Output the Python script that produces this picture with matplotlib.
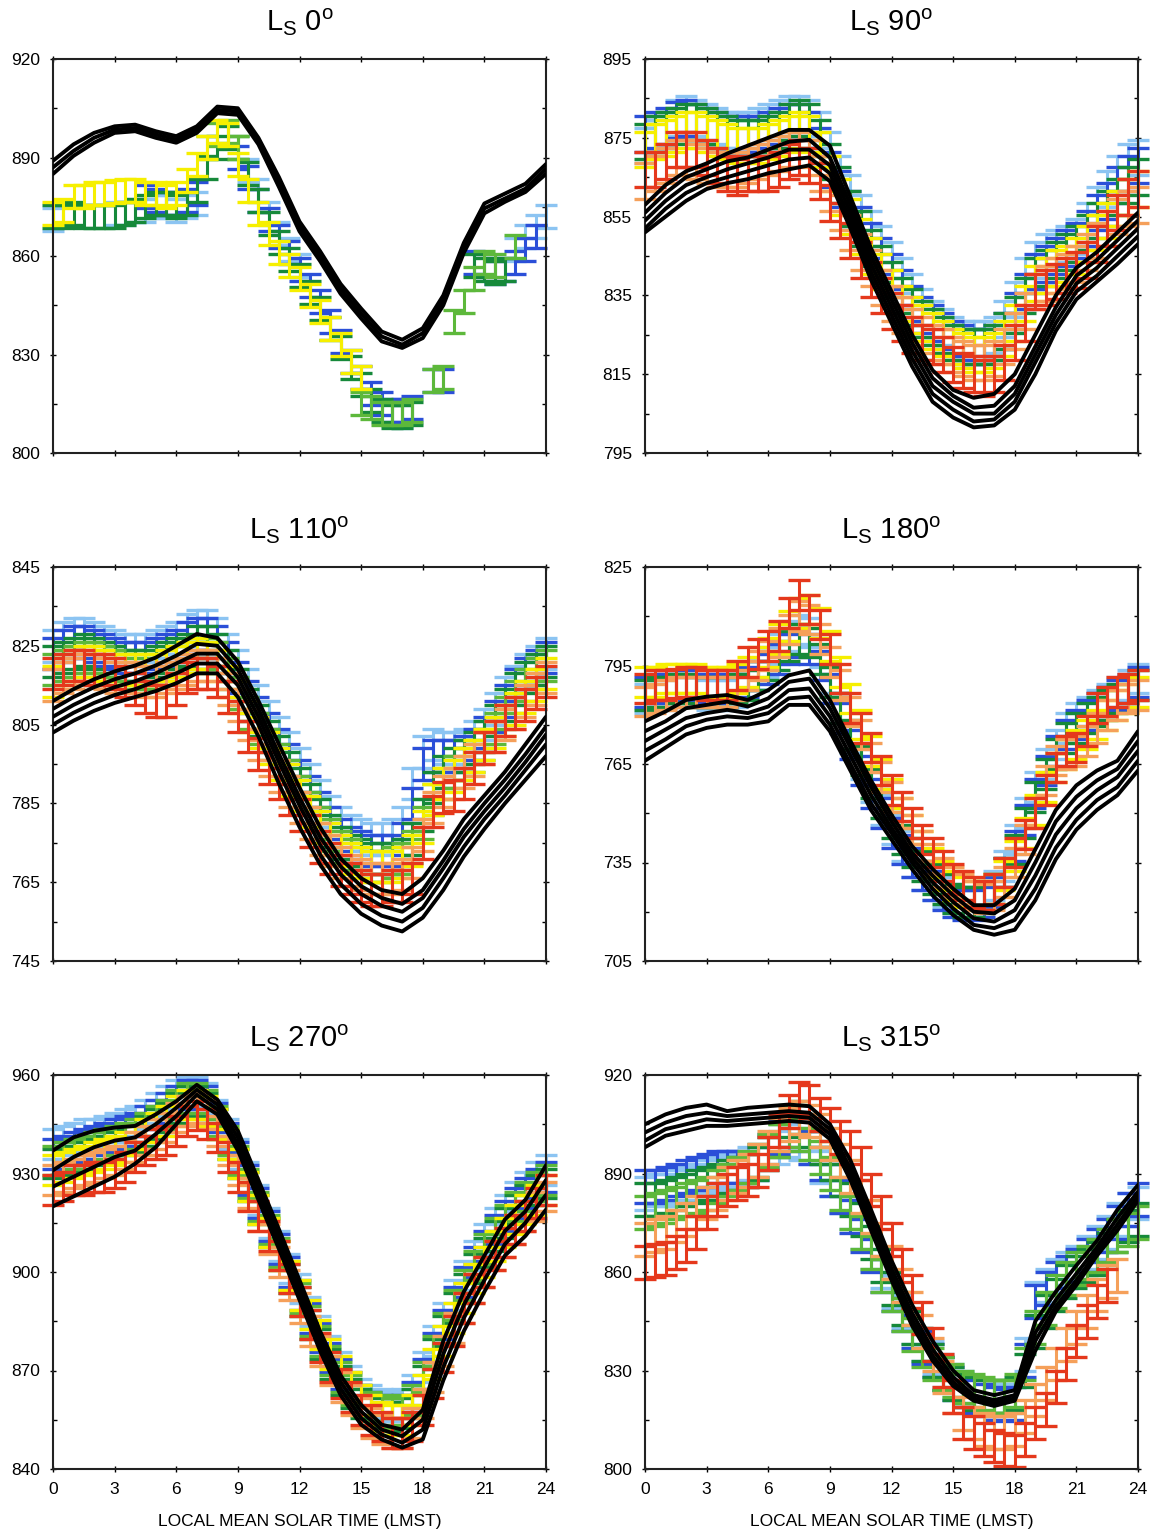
import matplotlib.pyplot as plt
import numpy as np

plt.rcParams['font.family'] = ['Liberation Sans', 'DejaVu Sans']
plt.rcParams['mathtext.fontset'] = 'custom'
plt.rcParams['mathtext.rm'] = 'Liberation Sans'
plt.rcParams['mathtext.it'] = 'Liberation Sans:italic'

nan = np.nan
hours = np.arange(0, 25)               # model output, hourly
half_hours = np.arange(0, 24.5, 0.5)   # observation bins

# ---------------- Ls 0 ----------------
ls0_model_a = [889, 894, 897.5, 899.5, 900, 898, 896.5, 899.5, 905.5, 905, 896, 884, 870.5,
               861.5, 851.5, 844, 837, 834.5, 838, 848, 864, 876, 879, 882, 888]
ls0_model_b = [887, 892, 896, 898.5, 899, 897, 895.5, 898.5, 904.5, 904, 895, 882.5, 869,
               860, 850, 842.5, 835.5, 833, 836.5, 846.5, 862.5, 874.5, 877.5, 880.5, 886.5]
ls0_model_c = [885, 890.5, 894.5, 897.5, 898, 896, 894.5, 897.5, 903.5, 903, 894, 881, 867.5,
               858.5, 848.5, 841, 834, 832, 835, 845, 861, 873, 876.5, 879.5, 885]

ls0_yellow = [873, 874, 878, 878, 879, 879, 879.5, 880, 880, 879, 879, 878,
              879, 883, 888, 893, 898, 897, 888, 880, 873, 867, 861, 857,
              853, 848, 843, 838, 833, 828, 823, nan, nan, nan, nan, nan,
              nan, nan, nan, nan, nan, nan, nan, nan, nan, nan, nan, nan,
              nan]
ls0_darkgreen = [872, 872, 873, 872, 872, 872, 872, 873, 874, 875, 876, 876,
                 875, 876, 880, 887, 893, 896, 893, 885, 877, 870, 864, 859,
                 854, 849, 844, 838, 832, 826, 821, 816, 813, 811, 811, 812,
                 nan, nan, nan, nan, nan, 857, 856, 855, 856, nan, nan, nan,
                 nan]
ls0_lightgreen = [nan, nan, nan, nan, nan, nan, nan, nan, nan, nan, nan, nan,
                  nan, nan, nan, 893, 897, 898, 893, nan, nan, nan, nan, nan,
                  nan, nan, nan, nan, nan, nan, 815, 814, 812, 812, 812, 813,
                  nan, 822, 823, 840, 846, 853, 858, 857, nan, 863, nan, nan,
                  nan]
ls0_blue = [nan, nan, nan, nan, nan, nan, nan, nan, nan, 878, 877, 876,
            876, 877, 879, nan, nan, nan, 890, 884, 877, 871, 866, 861,
            856, 851, 846, 840, 834, 828, 823, 818, 815, 813, 813, 814,
            nan, 822, 822, nan, nan, 858, 857, 855, 856, 858, 862, 866,
            nan]
ls0_lightblue = [871, nan, nan, nan, nan, nan, 873, 873, 874, 874, 875, 875,
                 874, 875, 876, nan, nan, nan, nan, 886, 880, 873, 867, 862,
                 857, nan, nan, nan, nan, nan, nan, nan, nan, 812, 811, 813,
                 nan, nan, nan, nan, nan, nan, nan, nan, nan, 862, 866, 869,
                 872]

# ---------------- Ls 90 ----------------
ls90_model_a = [858, 863, 866.5, 868.5, 871, 873, 875, 877, 877, 873, 860, 847, 836,
                825, 816, 811, 809, 810, 815, 825, 835, 842, 846, 851, 856]
ls90_model_b = [856, 861, 865, 867, 869, 870, 872, 874, 874.5, 870, 858, 845, 834,
                823, 814, 809.5, 806.5, 807, 812, 822, 832, 840, 844, 849, 854]
ls90_model_c = [854, 859, 863, 865, 867, 868.5, 870, 872, 872, 868, 856, 843, 832,
                821, 812, 808, 805, 805, 810, 820, 830, 838, 842, 847, 852]
ls90_model_d = [852, 857, 861, 863.5, 865, 866.5, 868, 869.5, 870, 866, 854, 841, 830,
                819, 810, 806, 803, 803.5, 808, 818, 828, 836, 840, 845, 850]
ls90_model_e = [851, 855, 859, 862, 863.5, 864.5, 866, 867, 868, 864, 852, 839, 828,
                817, 808, 804, 801.5, 802, 806, 815, 826, 834, 838.5, 843, 848]

ls90_red = [867, 867, 869, 872, 872, 872, 870, 868, 866, 865, 866, 866,
            866, 867, 869, 870, 868, 864, 858.5, 854, 849, 844, 839, 835,
            831, 828, 825, 823, 822, 820, 817.5, 816, 815, 814, 815, 818,
            823, 828, 836, 837, 838.5, 840, 841.5, 844, 848, 852, 856, 860,
            862]
ls90_orange = [864, 866, 868, 870, 870, 869, 868, 867, 867, 867, 868, 869,
               870, 871, 872, 872, 870, 866, 861, 856, 851, 846, 842, 837,
               833, 830, 827, 825, 823, 822, 820, 819, 818, 818, 819, 822,
               826, 831, 836, 838, 840, 841, 843, 846, 849, 852, 855, 857,
               858]
ls90_yellow = [872, 874, 875, 876, 877, 877, 876, 875, 874, 873, 873, 873,
               874, 875, 876, 877, 876, 872, 866, 860, 855, 850, 845, 841,
               837, 833, 830, 828, 826, 824, 822, 821, 820, 820, 821, 824,
               828, 833, 838, 840, 842, 843, 845, 848, 851, 854, 857, 860,
               862]
ls90_darkgreen = [874, 876, 877, 878, 879, 879, 878, 877, 876, 875, 875, 875,
                  876, 877, 879, 880, 879, 875, 869, 863, 857, 852, 847, 843,
                  839, 835, 832, 829, 827, 825, 823, 822, 822, 822, 823, 826,
                  830, 835, 840, 842, 844, 846, 848, 851, 854, 857, 860, 863,
                  865]
ls90_blue = [876, 877, 878, 879.5, 880, 879, 878, 877, 876, 876, 876, 876,
             877, 878, 879, 879, 877, 873, 867, 862, 857, 853, 849, 845,
             841, 837, 833, 830, 828, 826, 824, 823, 822, 822, 823, 826,
             831, 836, 841, 843, 845, 847, 849, 852, 856, 859, 863, 866,
             868]
ls90_lightblue = [873, 875, 877, 880, 881, 880, 879, 878, 877, 877, 877, 878,
                  879, 880, 881, 881, 880, 877, 872, 866, 861, 856, 852, 848,
                  844, 840, 836, 832, 829, 827, 825, 824, 824, 824, 825, 829,
                  834, 840, 844, 846, 847, 848, 850, 854, 858, 862, 866, 869,
                  870]

# ---------------- Ls 110 ----------------
ls110_model_a = [811, 814, 816.5, 818.5, 820, 822, 825, 828, 827, 821, 811, 800, 789,
                 779, 771, 766, 763, 762, 766, 773, 781, 787, 793, 800, 807]
ls110_model_b = [809, 812, 814.5, 816.5, 818, 820, 822.5, 825.5, 825, 819, 809, 797.5, 786.5,
                 776.5, 769, 764, 761, 759.5, 763, 770.5, 778.5, 785, 791, 797.5, 804.5]
ls110_model_c = [807, 810, 812.5, 814.5, 816, 818, 820.5, 823, 823, 817, 807, 795.5, 784.5,
                 774.5, 767, 762, 759, 757.5, 761, 768.5, 776.5, 783, 789, 795.5, 802.5]
ls110_model_d = [805, 808, 810.5, 812.5, 814, 816, 818, 820.5, 820.5, 815, 805, 793, 782,
                 772, 764.5, 759.5, 756.5, 755, 758.5, 766, 774, 781, 787, 793.5, 800]
ls110_model_e = [803, 806, 808.5, 810.5, 812, 813.5, 815.5, 818, 818, 812, 802, 790, 779,
                 769.5, 762, 757, 754, 752.5, 756, 763, 771.5, 778.5, 785, 791, 797]

ls110_red = [818, 819, 820, 820, 819, 819, 818, 816, 814, 812, 811, 811,
             814, 817, 818, 818, 816, 812, 807, 802, 797.5, 794, 790, 786,
             782, 778, 774, 771, 768, 766, 764, 763, 763, 764, 764, 766,
             775, 783, 786.5, 787, 790, 794, 799, 802, 806, 808, 810, 813,
             816]
ls110_orange = [815, 817, 818, 819, 819, 818, 817, 817, 817, 816, 816, 817,
                818, 819, 820, 820, 818, 814, 810, 805, 800, 796, 792, 788,
                784, 780, 776, 773, 770, 768, 767, 766, 766, 766, 767, 770,
                777, 784, 788, 790, 793, 796, 799, 802, 805, 808, 811, 814,
                817]
ls110_yellow = [816, 818, 820, 821, 821, 820, 819, 819, 819, 819, 819, 820,
                821, 822, 823, 822, 820, 816, 812, 807, 803, 799, 795, 791,
                787, 783, 779, 776, 773, 771, 770, 769, 769, 769, 770, 773,
                779, 786, 790, 792, 795, 797, 800, 803, 806, 809, 812, 815,
                818]
ls110_darkgreen = [821, 822, 823, 824, 823, 822, 821, 820, 820, 820, 821, 822,
                   823, 824, 826, 826, 824, 820, 815, 810, 806, 802, 798, 794,
                   790, 786, 782, 778, 775, 773, 772, 771, 771, 771, 772, 776,
                   782, 789, 793, 795, 797, 799, 802, 806, 810, 814, 817, 819,
                   821]
ls110_lightgreen = [819, 820, 821, 822, 822, 821, 820, 819, 818, 818, 819, 820,
                    821, 822, 823, 823, 822, 818, 813, 808, 804, 800, 796, 792,
                    788, 784, 780, 777, 774, 772, 770, 769, 769, 770, 771, 774,
                    780, 786, 790, 793, 795, 797, 800, 804, 808, 812, 815, 818,
                    820]
ls110_blue = [823, 825, 826, 826, 825, 824, 823, 822, 822, 822, 823, 824,
              825, 827, 828, 828, 826, 822, 817, 812, 808, 804, 800, 796,
              792, 788, 784, 780, 777, 775, 774, 773, 773, 773, 776, 785,
              795, 797, 797, 797, 798, 800, 803, 807, 811, 815, 818, 820,
              822]
ls110_lightblue = [825, 827, 828, 828, 827, 826, 825, 824, 824, 824, 825, 826,
                   827, 829, 830, 830, 828, 824, 820, 815, 811, 807, 803, 799,
                   795, 791, 787, 783, 780, 778, 777, 776, 776, 777, 780, 790,
                   798, 800, 799, 799, 800, 802, 805, 809, 813, 816, 819, 821,
                   823]

# ---------------- Ls 180 ----------------
ls180_model_a = [778, 781, 784.5, 785.5, 786, 784.5, 787.5, 792, 793.5, 784.5, 772, 760, 749.5,
                 740, 733, 727, 722, 722, 727, 739, 751, 758.5, 763, 766, 775]
ls180_model_b = [775, 778, 782, 783, 784, 782.5, 785, 790, 791, 782, 770, 758, 747.5,
                 738, 731, 725, 720, 719.5, 723.5, 735, 747.5, 755, 760, 763.5, 772]
ls180_model_c = [772, 775.5, 779, 780.5, 781.5, 780.5, 782.5, 787.5, 788, 779.5, 767.5, 755.5, 745.5,
                 736.5, 729, 723, 718, 717, 720.5, 731, 743.5, 751.5, 757, 761, 769]
ls180_model_d = [769, 772.5, 776.5, 778.5, 779.5, 779, 780.5, 785, 785.5, 777, 765, 753, 744,
                 735, 727, 721, 716, 715, 717.5, 727, 739.5, 748, 754, 758, 766]
ls180_model_e = [766, 770, 774, 776, 777, 777, 778, 783, 783, 775, 763, 751, 742,
                 733, 725, 719, 714.5, 713, 714.5, 723.5, 736, 745, 751, 755.5, 763]

ls180_red = [788, 789, 789, 789.5, 790, 790, 789, 789, 789, 792, 796, 798.5,
             801, 804, 811, 816.5, 812, 807.5, 800, 791, 782, 776, 770, 763,
             757, 752, 747, 742, 738, 734, 730, 728, 726, 725, 727, 732,
             738, 743.5, 750, 757, 764, 769, 770, 775, 782, 784, 787, 788,
             789]
ls180_orange = [784, 785, 786, 787, 787, 787, 787, 787, 787, 789, 792, 795,
                798, 802, 806, 810, 809, 803, 796, 789, 781, 774, 767, 761,
                755, 750, 745, 740, 736, 732, 729, 727, 725, 724, 725, 729,
                735, 742, 750, 760, 766, 768, 769, 772, 776, 780, 783, 785,
                786]
ls180_yellow = [790, 790, 791, 791, 791, 791, 790, 790, 790, 791, 793, 796,
                799, 803, 807, 811, 812, 808, 801, 793, 785, 777, 769, 762,
                756, 750, 745, 740, 735, 731, 728, 726, 725, 725, 727, 731,
                737, 744, 751, 758, 764, 768, 771, 774, 777, 780, 783, 785,
                787]
ls180_darkgreen = [786, 787, 787, 788, 788, 787, 787, 787, 787, 788, 789, 792,
                   795, 798, 801, 803, 802, 797, 790, 782, 774, 766, 759, 753,
                   747, 742, 738, 734, 730, 727, 724, 723, 723, 724, 727, 732,
                   739, 747, 755, 762, 768, 773, 776, 779, 781, 783, 785, 787,
                   789]
ls180_blue = [787, 788, 788, 789, 789, 788, 788, 788, 788, 789, 790, 792,
              794, 797, 800, 802, 800, 795, 788, 779, 771, 763, 756, 750,
              744, 739, 735, 731, 728, 725, 723, 722, 722, 723, 726, 732,
              740, 748, 756, 763, 769, 774, 777, 780, 782, 784, 786, 788,
              790]
ls180_lightblue = [785, 786, 786, 787, 787, 787, 786, 786, 786, 787, 789, 792,
                   796, 800, 804, 806, 805, 799, 791, 782, 773, 765, 758, 751,
                   745, 740, 735, 731, 728, 726, 724, 723, 723, 725, 728, 734,
                   742, 750, 758, 765, 771, 776, 779, 781, 783, 785, 787, 789,
                   791]

# ---------------- Ls 270 ----------------
ls270_model_a = [937, 941, 943, 944, 944.5, 948, 952, 957, 952.5, 943, 928, 913, 897.5,
                 882, 868.5, 859.5, 853.5, 852, 858, 879, 894, 905, 916, 922, 932.5]
ls270_model_b = [931, 935, 938, 940, 941, 945, 950, 955.5, 951, 941, 926, 911, 895.5,
                 880, 866.5, 857.5, 852, 850, 855, 875, 890, 901.5, 912.5, 918.5, 928]
ls270_model_c = [926, 929, 932, 935, 937, 942, 947.5, 954, 949.5, 939, 924, 909, 893.5,
                 878, 864.5, 855.5, 850.5, 848, 852, 871, 886, 897.5, 908.5, 915, 923.5]
ls270_model_d = [920, 923, 926, 929, 933, 938, 945, 952, 948, 937, 922, 907, 891.5,
                 876, 862.5, 853.5, 849, 846.5, 849, 867, 882, 894, 905, 911, 919]

ls270_lightblue = [939, 940, 941, 942, 942, 943, 944, 945, 946, 948, 950, 952,
                   954, 955, 955, 953, 948, 942, 936, 929, 922, 915, 908, 901,
                   895, 888, 882, 876, 871, 867, 863, 861, 860, 859, 860, 864,
                   871, 879, 886, 893, 899, 905, 910, 915, 919, 923, 926, 929,
                   931]
ls270_blue = [936, 937, 938, 939, 940, 941, 942, 943, 944, 946, 948, 950,
              952, 954, 954, 952, 947, 941, 935, 928, 921, 914, 907, 900,
              893, 886, 880, 874, 869, 865, 861, 859, 858, 857, 858, 862,
              869, 877, 884, 891, 897, 903, 908, 913, 917, 921, 924, 927,
              929]
ls270_darkgreen = [933, 934, 935, 936, 937, 938, 939, 940, 941, 943, 945, 947,
                   950, 952, 952, 950, 945, 939, 933, 926, 919, 912, 905, 898,
                   891, 884, 878, 872, 867, 863, 860, 858, 857, 856, 857, 860,
                   867, 875, 882, 889, 895, 901, 906, 911, 915, 919, 922, 925,
                   927]
ls270_lightgreen = [934, 935, 936, 937, 938, 939, 940, 941, 942, 944, 946, 948,
                    951, 953, 953, 951, 946, 940, 934, 927, 920, 913, 906, 899,
                    892, 885, 879, 873, 868, 864, 861, 859, 858, 857, 858, 861,
                    868, 876, 883, 890, 896, 902, 907, 912, 916, 920, 923, 926,
                    928]
ls270_yellow = [931, 932, 933, 934, 935, 936, 937, 938, 940, 942, 944, 946,
                949, 951, 951, 949, 945, 939, 933, 926, 919, 912, 905, 899,
                893, 887, 881, 875, 870, 865, 861, 858, 856, 855, 855, 858,
                864, 872, 879, 886, 892, 898, 903, 908, 912, 916, 919, 922,
                925]
ls270_orange = [928, 929, 930, 931, 932, 933, 934, 936, 938, 940, 942, 944,
                947, 949, 950, 948, 943, 937, 931, 924, 917, 910, 903, 896,
                889, 882, 876, 870, 865, 861, 857, 854, 852, 851, 851, 854,
                860, 868, 876, 883, 889, 895, 900, 905, 909, 913, 917, 920,
                923]
ls270_red = [925, 926, 928, 928, 929, 929, 930, 932, 935, 937, 939, 940,
             943, 946, 947.7, 945, 941, 935, 929, 923, 917, 911, 905, 898,
             891, 884, 877, 871, 866, 862, 858, 855, 853, 851, 851, 853,
             858, 866, 874, 882, 889, 895, 900, 905, 909, 913, 917, 921,
             925]

# ---------------- Ls 315 ----------------
ls315_model_a = [905, 908, 910, 911, 909, 910, 910.5, 911, 910.5, 905, 894, 879, 863.5,
                 850, 839, 830, 824, 822.5, 824, 845, 854, 862, 869.5, 879, 886.5]
ls315_model_b = [902.5, 905.5, 907.5, 908.5, 907.5, 908, 908.5, 909, 908.5, 903.5, 891.5, 876.5, 861,
                 847.5, 836.5, 828, 822.5, 821, 822.5, 841.5, 851.5, 859.5, 867.5, 876.5, 884.5]
ls315_model_c = [900, 903.5, 905, 906.5, 906, 906.5, 907, 907.5, 907, 902, 889.5, 874.5, 859,
                 845.5, 834.5, 826.5, 821.5, 820, 821.5, 839, 849.5, 857.5, 866, 874.5, 883]
ls315_model_d = [898, 901.5, 903, 904.5, 904.5, 905, 905.5, 906, 905.5, 900.5, 888, 872.7, 857.5,
                 843.7, 833, 825.3, 820.8, 819.2, 820.8, 836, 848, 856, 865, 872.7, 881.8]

ls315_red = [863, 863.5, 864, 866, 868, 872, 878, 882, 885, 887, 888, 891,
             896, 903, 909, 913, 912, 908, 905, 901, 898, 893, 885, 878,
             870, 862, 854, 846, 838, 830, 822, 814, 811, 809, 807, 806,
             805.5, 809, 814, 818, 825, 832, 839, 845, 851, 856, nan, nan,
             nan]
ls315_orange = [870, 871, 872, 874, 876, 878, 881, 884, 887, 889, 891, 894,
                898, 902, 905, 907, 906, 903, 899, 894, 889, 883, 877, 870,
                863, 856, 849, 842, 835, 828, 822, 817, 814, 812, 811, 811,
                812, 816, 821, 826, 832, 838, 843, 848, 853, 857, 859, nan,
                nan]
ls315_darkgreen = [882, 882, 883, 884, 885, 886, 887, 888, 889, 890, 891, 893,
                   896, 900, 906, 907, 903, 898, 893, 888, 882, 876, 869, 862,
                   855, 849, 843, 838, 833, 829, 826, 824, 823, 822, 822, 822,
                   823, 830, 842, 848, 853, 857, 860, 862, 864, 867, 871, 874,
                   876]
ls315_lightgreen = [878, 879, 880, 881, 882, 883, 884, 886, 888, 890, 892, 894,
                    897, 900, 903, 902, 899, 895, 890, 884, 878, 872, 866, 859,
                    853, 847, 841, 836, 832, 829, 827, 825, 824, 823, 822, 822,
                    824, 832, 843, 849, 854, 858, 861, 863, 865, 868, 871, 873,
                    875]
ls315_blue = [886, 886, 887, 888, 889, 890, 891, 892, 892, 892, 891, 893,
              897, 901, 903, 902, 898, 893, 888, 883, 877, 871, 865, 859,
              853, 847, 842, 837, 833, 829, 826, 824, 822, 821, 820, 819.5,
              820, 833, 851, 855, 858, 860, 862, 865, 868, 871, 875, 879,
              882]
ls315_lightblue = [884, 885, 885, 886, 887, 888, 889, 890, 891, 892, 893, 894,
                   896, 898, 900, 899, 898, 892, 888, 883, 878, 872, 866, 860,
                   854, 848, 843, 838, 834, 830, 827, 825, 823, 822, 821, 821,
                   822, 835, 852, 856, 859, 861, 863, 866, 869, 872, 876, 879,
                   881]

colors = {
    'lightblue': '#8cc4f2',
    'blue': '#2b4fd8',
    'darkgreen': '#16893a',
    'lightgreen': '#5db83b',
    'yellow': '#f6ef00',
    'orange': '#f5a05a',
    'red': '#e5381c',
}
draw_order = ['lightblue', 'blue', 'darkgreen', 'lightgreen', 'yellow', 'orange', 'red']


def draw_panel(ax, ls, ylo, yhi, ystep, err, models, obs, bottom):
    for name in draw_order:
        if name not in obs:
            continue
        eb = ax.errorbar(half_hours, obs[name], yerr=err, fmt='none',
                         ecolor=colors[name], elinewidth=2.2, capsize=8, capthick=2.4)
        for artist in eb.get_children():
            artist.set_clip_on(False)

    for m in models:
        ax.plot(hours, m, color='black', lw=2.8, zorder=5,
                solid_capstyle='round', solid_joinstyle='round')

    ax.set_xlim(0, 24)
    ax.set_ylim(ylo, yhi)
    ax.set_xticks(range(0, 25, 3))
    ax.set_yticks(np.arange(ylo, yhi + 1, ystep))
    ax.set_yticks(np.arange(ylo + ystep / 2, yhi, ystep), minor=True)
    ax.tick_params(which='major', direction='inout', length=5, width=1,
                   top=True, right=True, labelsize=12.5, pad=7)
    ax.tick_params(which='minor', direction='in', length=3, width=1,
                   top=True, right=True)
    for s in ax.spines.values():
        s.set_linewidth(1.5)
        s.set_color('#222222')

    ax.set_title(r'$\mathrm{L_S\ ' + ls + r'^o}$', fontsize=21, pad=20)
    if bottom:
        ax.set_xlabel('LOCAL MEAN SOLAR TIME (LMST)', fontsize=12.5, labelpad=12)
    else:
        ax.tick_params(labelbottom=False)


def run():
    fig = plt.figure(figsize=(11.51, 15.33), dpi=100)
    W, H = 1151, 1533

    def axes_at(left, top):
        return fig.add_axes([left / W, 1 - (top + 394) / H, 493 / W, 394 / H])

    draw_panel(axes_at(53, 59), '0', 800, 920, 30, 3.5,
               [ls0_model_a, ls0_model_b, ls0_model_c],
               {'lightblue': ls0_lightblue, 'blue': ls0_blue, 'darkgreen': ls0_darkgreen,
                'lightgreen': ls0_lightgreen, 'yellow': ls0_yellow}, False)

    draw_panel(axes_at(645, 59), '90', 795, 895, 20, 4.5,
               [ls90_model_a, ls90_model_b, ls90_model_c, ls90_model_d, ls90_model_e],
               {'lightblue': ls90_lightblue, 'blue': ls90_blue, 'darkgreen': ls90_darkgreen,
                'yellow': ls90_yellow, 'orange': ls90_orange, 'red': ls90_red}, False)

    draw_panel(axes_at(53, 567), '110', 745, 845, 20, 4,
               [ls110_model_a, ls110_model_b, ls110_model_c, ls110_model_d, ls110_model_e],
               {'lightblue': ls110_lightblue, 'blue': ls110_blue, 'darkgreen': ls110_darkgreen,
                'lightgreen': ls110_lightgreen, 'yellow': ls110_yellow,
                'orange': ls110_orange, 'red': ls110_red}, False)

    draw_panel(axes_at(645, 567), '180', 705, 825, 30, 4.5,
               [ls180_model_a, ls180_model_b, ls180_model_c, ls180_model_d, ls180_model_e],
               {'lightblue': ls180_lightblue, 'blue': ls180_blue, 'darkgreen': ls180_darkgreen,
                'yellow': ls180_yellow, 'orange': ls180_orange, 'red': ls180_red}, False)

    draw_panel(axes_at(53, 1075), '270', 840, 960, 30, 4.5,
               [ls270_model_a, ls270_model_b, ls270_model_c, ls270_model_d],
               {'lightblue': ls270_lightblue, 'blue': ls270_blue, 'darkgreen': ls270_darkgreen,
                'lightgreen': ls270_lightgreen, 'yellow': ls270_yellow,
                'orange': ls270_orange, 'red': ls270_red}, True)

    draw_panel(axes_at(645, 1075), '315', 800, 920, 30, 5,
               [ls315_model_a, ls315_model_b, ls315_model_c, ls315_model_d],
               {'lightblue': ls315_lightblue, 'blue': ls315_blue, 'darkgreen': ls315_darkgreen,
                'lightgreen': ls315_lightgreen, 'orange': ls315_orange, 'red': ls315_red}, True)

    fig.savefig('out.png', dpi=100)


run()
